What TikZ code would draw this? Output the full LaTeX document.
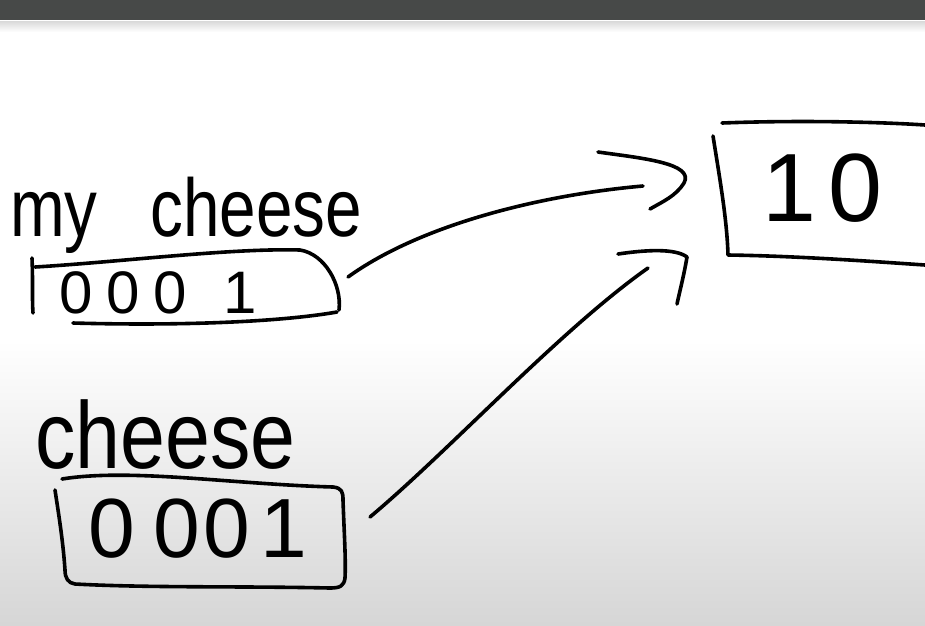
\documentclass[tikz,border=0pt]{standalone}
\usepackage{fontspec}
\setmainfont{Liberation Sans}
\definecolor{barcol}{HTML}{474948}
\definecolor{shadebot}{HTML}{D6D6D6}
\begin{document}
\begin{tikzpicture}[x=1pt,y=-1pt,
  ink/.style={line width=3.6pt, line cap=round, line join=round, draw=black},
  hand/.style={inner sep=0pt, anchor=base west, text=black}]
\useasboundingbox (0,0) rectangle (925,625);
\fill[white] (0,0) rectangle (925,625);
\shade[top color=white, bottom color=shadebot] (0,340) rectangle (925,625);
\shade[top color=gray!30, bottom color=white] (0,21) rectangle (925,32);
\fill[barcol] (0,0) rectangle (925,20);

% labels
\node[hand,font=\fontsize{82}{82}\selectfont] (mylabel) at (10,236) {\scalebox{0.8}[1]{my\hspace{66pt}cheese}};
\node[hand,font=\fontsize{95}{95}\selectfont] (chlabel) at (35,468) {\scalebox{0.85}[1]{cheese}};

% top box
\node[hand,font=\fontsize{60}{60}\selectfont] (box1) at (59,313) {0\hspace{13.6pt}0\hspace{13.6pt}0\hspace{36.6pt}1};
\draw[ink] (32,258) .. controls (33,280) and (32,300) .. (33,313);
\draw[ink] (35,267) .. controls (120,262) and (230,248) .. (300,250) .. controls (325,254) and (342,285) .. (339,310);
\draw[ink] (73,323) .. controls (180,326) and (280,322) .. (337,312);

% bottom box
\node[hand,font=\fontsize{84}{84}\selectfont] (box2) at (88,557) {0\hspace{19pt}0\hspace{3pt}0\hspace{10pt}1};
\draw[ink] (62,479) .. controls (130,468) and (230,484) .. (333,487);
\draw[ink] (333,487) .. controls (342,488) and (343,492) .. (343,500) .. controls (344,530) and (346,560) .. (345,578) .. controls (344,586) and (340,588) .. (330,588) .. controls (240,586) and (150,588) .. (75,584) .. controls (68,583) and (65,578) .. (65,570) .. controls (63,540) and (58,510) .. (55,490);

% right box
\node[hand,font=\fontsize{97}{97}\selectfont] (box3) at (762,221) {1\hspace{12pt}0};
\draw[ink] (722,123) .. controls (800,120) and (880,122) .. (925,125);
\draw[ink] (713,136) .. controls (720,180) and (727,220) .. (728,255) .. controls (800,256) and (880,262) .. (925,265);

% arrow 1
\coordinate (a1s) at (348,277);
\coordinate (a1e) at (643,186);
\draw[ink] (a1s) .. controls (420,225) and (540,195) .. (a1e);
\draw[ink] (598,152) .. controls (640,158) and (695,163) .. (684,183) .. controls (676,196) and (662,202) .. (650,209);

% arrow 2
\coordinate (a2s) at (370,517);
\coordinate (a2e) at (648,268);
\draw[ink] (a2s) .. controls (450,450) and (560,330) .. (a2e);
\draw[ink] (618,254) .. controls (645,250) and (675,248) .. (687,257) .. controls (684,275) and (680,290) .. (677,304);
\end{tikzpicture}
\end{document}
